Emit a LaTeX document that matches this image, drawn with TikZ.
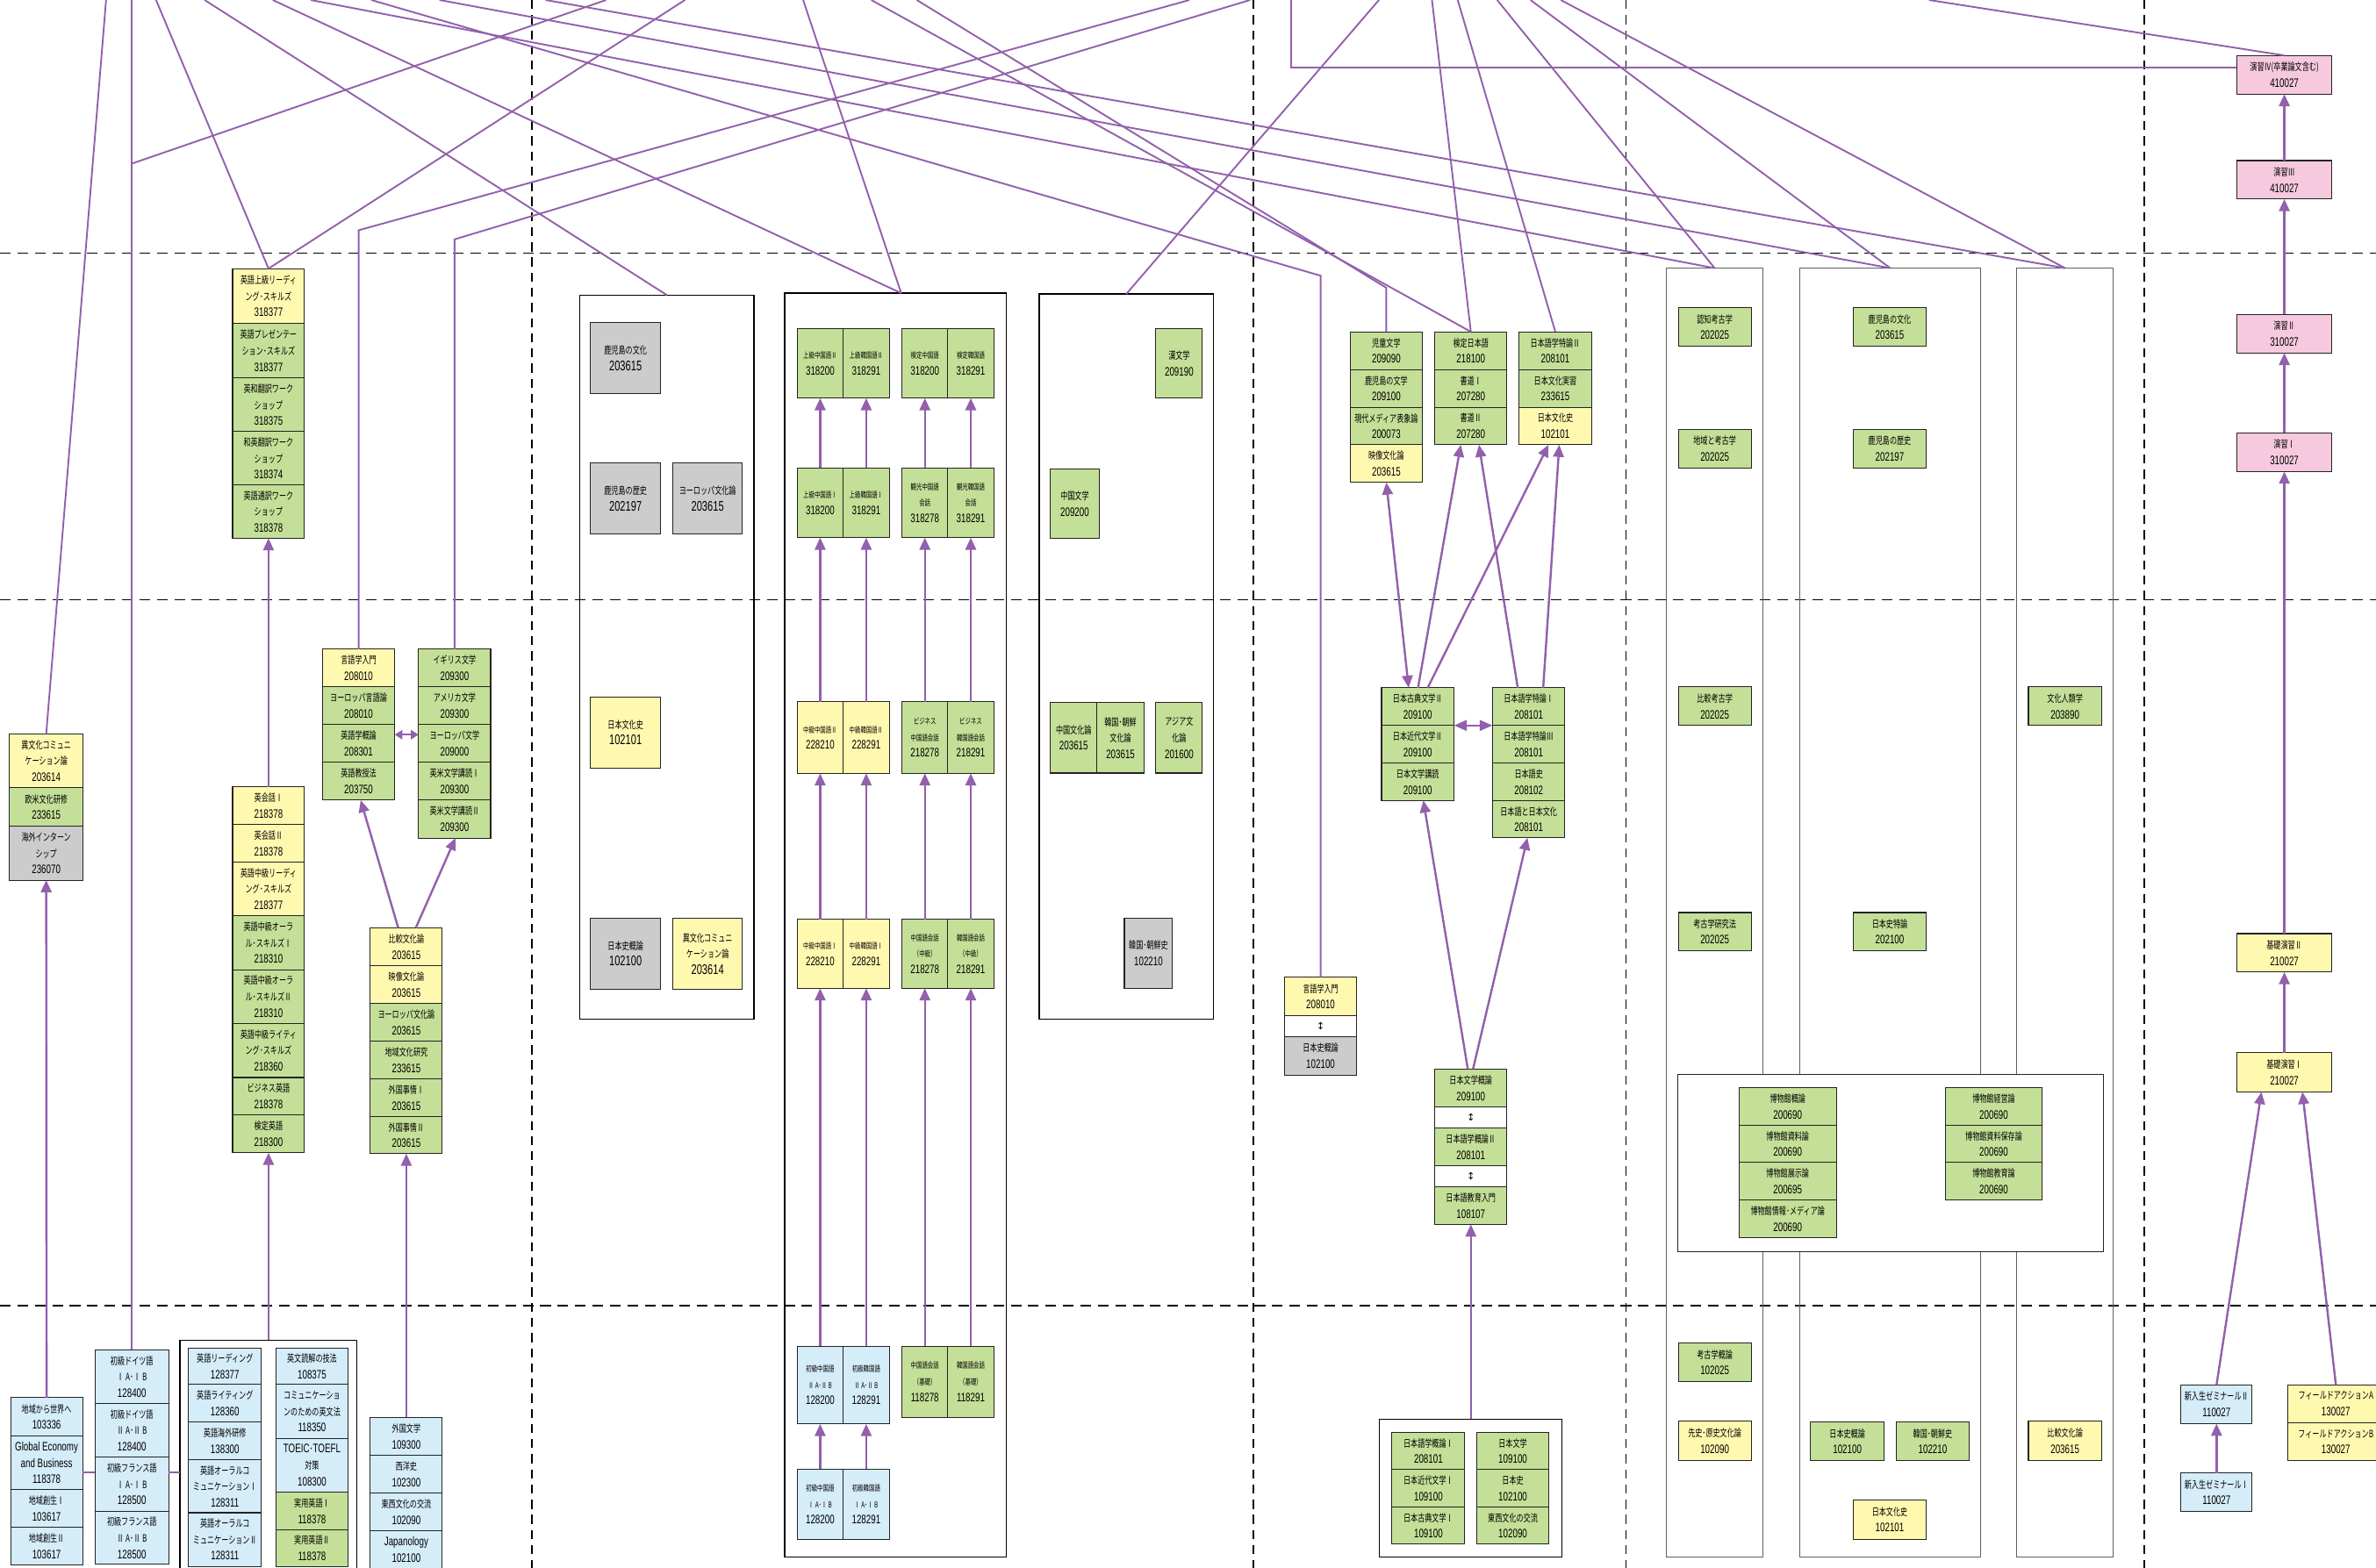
\documentclass[tikz,border=0pt]{standalone}
\usepackage{fontspec}
\setmainfont{Noto Sans CJK JP}
\newfontfamily\jpf{Noto Sans CJK JP}[FakeStretch=0.7]
\newfontfamily\lsf{Liberation Sans}[FakeStretch=0.7]
\newfontfamily\dvs{DejaVu Sans}
\usetikzlibrary{arrows.meta}
\definecolor{cy}{RGB}{255,249,176}
\definecolor{cg}{RGB}{196,223,151}
\definecolor{cb}{RGB}{213,236,249}
\definecolor{cgr}{RGB}{204,204,204}
\definecolor{cp}{RGB}{246,201,222}
\definecolor{pu}{RGB}{146,96,172}
\definecolor{bd}{RGB}{35,35,35}
\newcommand\jfont{\jpf\fontsize{6.7}{10.8}\selectfont}
\newcommand\jsm{\jpf\fontsize{5.3}{10.8}\selectfont}
\newcommand\cd[1]{{\lsf\fontsize{8.1}{10.8}\selectfont#1}}
\newcommand\cdk[1]{{\lsf\fontsize{9.2}{11}\selectfont#1}}
\newcommand\ud{{\dvs\fontsize{6.5}{6.5}\selectfont ↕}}
\newcommand\mycell[8][]{\node[cell,fill=#3,minimum width=#6pt,minimum height=#7pt,#1] (#2) at (#4,#5) {#8};}
\begin{document}
\begin{tikzpicture}[x=1pt,y=-1pt,
 cell/.style={draw=bd, line width=0.6pt, inner sep=0pt, outer sep=0pt, anchor=north west, align=center, font=\jfont},
 grpk/.style={draw=black, line width=0.9pt, inner sep=0pt, outer sep=0pt, anchor=north west},
 grpg/.style={draw=gray!75!black, line width=0.6pt, inner sep=0pt, outer sep=0pt, anchor=north west},
 dsh/.style={draw=black, line width=0.85pt, dash pattern=on 7pt off 4.5pt},
 dshv/.style={draw=black, line width=0.9pt, dash pattern=on 6pt off 4pt},
 ln/.style={draw=pu, line width=1.1pt},
 arr/.style={draw=pu, line width=1.4pt, -{Triangle[width=7pt,length=8pt]}},
 arr2/.style={draw=pu, line width=1.4pt, {Triangle[width=7pt,length=8pt]}-{Triangle[width=7pt,length=8pt]}},
 arr2m/.style={draw=pu, line width=1.4pt, {Triangle[width=7pt,length=8.5pt]}-{Triangle[width=7pt,length=8.5pt]}},
 arr2s/.style={draw=pu, line width=1.2pt, {Triangle[width=6pt,length=5pt]}-{Triangle[width=6pt,length=5pt]}}]
\useasboundingbox (0,0) rectangle (1568,1035);
\clip (0,0) rectangle (1568,1035);
\fill[white] (0,0) rectangle (1568,1035);
% dashed grid
\foreach \yy in {167,396,862} \draw[dsh] (0,\yy) -- (1568,\yy);
\foreach \xx in {351,827,1073,1415} \draw[dshv] (\xx,0) -- (\xx,1035);
% group boxes
\node[grpk, minimum width=114.8pt, minimum height=478.1pt] (Kbox) at (382.7,194.8) {};
\node[grpk, minimum width=146.4pt, minimum height=834.4pt] (Cgrp) at (517.8,193.5) {};
\node[grpk, minimum width=114.9pt, minimum height=478.8pt] (CLbox) at (685.8,194.1) {};
\node[grpk, line width=0.7pt, minimum width=116.8pt, minimum height=170pt] (Cbox) at (118.8,884.6) {};
\node[grpk, line width=0.8pt, minimum width=120.3pt, minimum height=90.9pt] (Jbox) at (910.3,936.8) {};
\node[grpg, minimum width=63.9pt, minimum height=851pt] (B1) at (1099.6,177) {};
\node[grpg, minimum width=119.6pt, minimum height=851pt] (B2) at (1187.6,177) {};
\node[grpg, minimum width=63.7pt, minimum height=851pt] (B3) at (1331,177) {};
\node[grpg, draw=bd, fill=white, minimum width=281pt, minimum height=116.6pt] (Mbox) at (1107.4,709.4) {};
% ---------- far left
\mycell{a1}{cy}{6}{484.5}{49}{35.5}{異文化コミュニ\\ケーション論\\\cd{203614}}
\mycell{a2}{cg}{6}{520}{49}{25.4}{欧米文化研修\\\cd{233615}}
\mycell{a3}{cgr}{6}{545.4}{49}{35.6}{海外インターン\\シップ\\\cd{236070}}
\mycell{b1}{cb}{7}{922.7}{47.5}{25.3}{地域から世界へ\\\cd{103336}}
\mycell{b2}{cb}{7}{948}{47.5}{35.4}{\cd{Global Economy}\\\cd{and Business}\\\cd{118378}}
\mycell{b3}{cb}{7}{983.4}{47.5}{25}{地域創生Ⅰ\\\cd{103617}}
\mycell{b4}{cb}{7}{1008.4}{47.5}{24.8}{地域創生Ⅱ\\\cd{103617}}
\mycell{c1}{cb}{62.7}{891}{48.7}{35.5}{初級ドイツ語\\Ⅰ A･Ⅰ B\\\cd{128400}}
\mycell{c2}{cb}{62.7}{926.5}{48.7}{35.4}{初級ドイツ語\\Ⅱ A･Ⅱ B\\\cd{128400}}
\mycell{c3}{cb}{62.7}{961.9}{48.7}{35.8}{初級フランス語\\Ⅰ A･Ⅰ B\\\cd{128500}}
\mycell{c4}{cb}{62.7}{997.7}{48.7}{35}{初級フランス語\\Ⅱ A･Ⅱ B\\\cd{128500}}
\mycell{d1}{cb}{124.5}{889.8}{47.9}{24.2}{英語リーディング\\\cd{128377}}
\mycell{d2}{cb}{124.5}{914}{47.9}{24.7}{英語ライティング\\\cd{128360}}
\mycell{d3}{cb}{124.5}{938.7}{47.9}{25}{英語海外研修\\\cd{138300}}
\mycell{d4}{cb}{124.5}{963.7}{47.9}{34.9}{英語オーラルコ\\ミュニケーションⅠ\\\cd{128311}}
\mycell{d5}{cb}{124.5}{998.6}{47.9}{35.4}{英語オーラルコ\\ミュニケーションⅡ\\\cd{128311}}
\mycell{e1}{cb}{182}{889.8}{47.8}{24.2}{英文読解の技法\\\cd{108375}}
\mycell{e2}{cb}{182}{914}{47.8}{35.4}{コミュニケーショ\\ンのための英文法\\\cd{118350}}
\mycell{e3}{cb}{182}{949.4}{47.8}{35.6}{\cd{TOEIC}･\cd{TOEFL}\\対策\\\cd{108300}}
\mycell{e4}{cg}{182}{985}{47.8}{25}{実用英語Ⅰ\\\cd{118378}}
\mycell{e5}{cg}{182}{1010}{47.8}{24}{実用英語Ⅱ\\\cd{118378}}
% English intermediate
\mycell{f1}{cy}{153.5}{519.4}{47.4}{25}{英会話Ⅰ\\\cd{218378}}
\mycell{f2}{cy}{153.5}{544.4}{47.4}{24.7}{英会話Ⅱ\\\cd{218378}}
\mycell{f3}{cy}{153.5}{569.1}{47.4}{35.3}{英語中級リーディ\\ング･スキルズ\\\cd{218377}}
\mycell{f4}{cg}{153.5}{604.4}{47.4}{35.8}{英語中級オーラ\\ル･スキルズⅠ\\\cd{218310}}
\mycell{f5}{cg}{153.5}{640.2}{47.4}{35.4}{英語中級オーラ\\ル･スキルズⅡ\\\cd{218310}}
\mycell{f6}{cg}{153.5}{675.6}{47.4}{35.7}{英語中級ライティ\\ング･スキルズ\\\cd{218360}}
\mycell{f7}{cg}{153.5}{711.3}{47.4}{24.7}{ビジネス英語\\\cd{218378}}
\mycell{f8}{cg}{153.5}{736}{47.4}{25}{検定英語\\\cd{218300}}
% English advanced
\mycell{g1}{cy}{153.5}{177.3}{47.4}{36.1}{英語上級リーディ\\ング･スキルズ\\\cd{318377}}
\mycell{g2}{cg}{153.5}{213.4}{47.4}{36.1}{英語プレゼンテー\\ション･スキルズ\\\cd{318377}}
\mycell{g3}{cg}{153.5}{249.5}{47.4}{35.4}{英和翻訳ワーク\\ショップ\\\cd{318375}}
\mycell{g4}{cg}{153.5}{284.9}{47.4}{35.4}{和英翻訳ワーク\\ショップ\\\cd{318374}}
\mycell{g5}{cg}{153.5}{320.3}{47.4}{35}{英語通訳ワーク\\ショップ\\\cd{318378}}
% linguistics / literature
\mycell{h1}{cy}{212.8}{428.5}{47.7}{24.9}{言語学入門\\\cd{208010}}
\mycell{h2}{cg}{212.8}{453.4}{47.7}{25}{ヨーロッパ言語論\\\cd{208010}}
\mycell{h3}{cg}{212.8}{478.4}{47.7}{24.9}{英語学概論\\\cd{208301}}
\mycell{h4}{cg}{212.8}{503.3}{47.7}{24.9}{英語教授法\\\cd{203750}}
\mycell{i1}{cg}{276.2}{428.5}{47.6}{24.9}{イギリス文学\\\cd{209300}}
\mycell{i2}{cg}{276.2}{453.4}{47.6}{25}{アメリカ文学\\\cd{209300}}
\mycell{i3}{cg}{276.2}{478.4}{47.6}{24.9}{ヨーロッパ文学\\\cd{209000}}
\mycell{i4}{cg}{276.2}{503.3}{47.6}{24.9}{英米文学講読Ⅰ\\\cd{209300}}
\mycell{i5}{cg}{276.2}{528.2}{47.6}{25}{英米文学講読Ⅱ\\\cd{209300}}
\mycell{j1}{cy}{244.4}{612.5}{47.5}{24.9}{比較文化論\\\cd{203615}}
\mycell{j2}{cy}{244.4}{637.4}{47.5}{25}{映像文化論\\\cd{203615}}
\mycell{j3}{cg}{244.4}{662.4}{47.5}{24.9}{ヨーロッパ文化論\\\cd{203615}}
\mycell{j4}{cg}{244.4}{687.3}{47.5}{24.9}{地域文化研究\\\cd{233615}}
\mycell{j5}{cg}{244.4}{712.2}{47.5}{25}{外国事情Ⅰ\\\cd{203615}}
\mycell{j6}{cg}{244.4}{737.2}{47.5}{24.4}{外国事情Ⅱ\\\cd{203615}}
\mycell{k1}{cb}{244.4}{935.7}{47.5}{24.9}{外国文学\\\cd{109300}}
\mycell{k2}{cb}{244.4}{960.6}{47.5}{24.9}{西洋史\\\cd{102300}}
\mycell{k3}{cb}{244.4}{985.5}{47.5}{24.9}{東西文化の交流\\\cd{102090}}
\mycell{k4}{cb}{244.4}{1010.4}{47.5}{25}{\cd{Japanology}\\\cd{102100}}
% Kagoshima group
\mycell{l1}{cgr}{389.6}{213}{46.4}{46.8}{鹿児島の文化\\\cdk{203615}}
\mycell{l2}{cgr}{389.6}{305.6}{46.4}{46.7}{鹿児島の歴史\\\cdk{202197}}
\mycell{l3}{cgr}{443.9}{305.6}{46.1}{46.7}{ヨーロッパ文化論\\\cdk{203615}}
\mycell{l4}{cy}{389.6}{460}{46.4}{47.1}{日本文化史\\\cdk{102101}}
\mycell{l5}{cgr}{389.6}{606}{46.4}{47.1}{日本史概論\\\cdk{102100}}
\mycell{l6}{cy}{443.9}{606}{46.1}{47.1}{異文化コミュニ\\ケーション論\\\cdk{203614}}
% Chinese / Korean group
\mycell[font=\jsm]{ch11}{cg}{526.1}{216.8}{30.3}{46}{上級中国語Ⅱ\\\cd{318200}}
\mycell[font=\jsm]{ch12}{cg}{556.4}{216.8}{30.5}{46}{上級韓国語Ⅱ\\\cd{318291}}
\mycell[font=\jsm]{ch13}{cg}{595.2}{216.8}{30.3}{46}{検定中国語\\\cd{318200}}
\mycell[font=\jsm]{ch14}{cg}{625.5}{216.8}{30.3}{46}{検定韓国語\\\cd{318291}}
\mycell[font=\jsm]{ch21}{cg}{526.1}{308.9}{30.3}{46}{上級中国語Ⅰ\\\cd{318200}}
\mycell[font=\jsm]{ch22}{cg}{556.4}{308.9}{30.5}{46}{上級韓国語Ⅰ\\\cd{318291}}
\mycell[font=\jsm]{ch23}{cg}{595.2}{308.9}{30.3}{46}{観光中国語\\会話\\\cd{318278}}
\mycell[font=\jsm]{ch24}{cg}{625.5}{308.9}{30.3}{46}{観光韓国語\\会話\\\cd{318291}}
\mycell[font=\jsm]{ch31}{cy}{526.1}{463.3}{30.3}{47.2}{中級中国語Ⅱ\\\cd{228210}}
\mycell[font=\jsm]{ch32}{cy}{556.4}{463.3}{30.5}{47.2}{中級韓国語Ⅱ\\\cd{228291}}
\mycell[font=\jsm]{ch33}{cg}{595.2}{463.3}{30.3}{47.2}{ビジネス\\中国語会話\\\cd{218278}}
\mycell[font=\jsm]{ch34}{cg}{625.5}{463.3}{30.3}{47.2}{ビジネス\\韓国語会話\\\cd{218291}}
\mycell[font=\jsm]{ch41}{cy}{526.1}{606.9}{30.3}{45.5}{中級中国語Ⅰ\\\cd{228210}}
\mycell[font=\jsm]{ch42}{cy}{556.4}{606.9}{30.5}{45.5}{中級韓国語Ⅰ\\\cd{228291}}
\mycell[font=\jsm]{ch43}{cg}{595.2}{606.9}{30.3}{45.5}{中国語会話\\（中級）\\\cd{218278}}
\mycell[font=\jsm]{ch44}{cg}{625.5}{606.9}{30.3}{45.5}{韓国語会話\\（中級）\\\cd{218291}}
\mycell[font=\jsm]{ch51}{cb}{526.1}{888.6}{30.3}{51.4}{初級中国語\\Ⅱ A･Ⅱ B\\\cd{128200}}
\mycell[font=\jsm]{ch52}{cb}{556.4}{888.6}{30.5}{51.4}{初級韓国語\\Ⅱ A･Ⅱ B\\\cd{128291}}
\mycell[font=\jsm]{ch53}{cg}{595.2}{888.6}{30.3}{47.2}{中国語会話\\（基礎）\\\cd{118278}}
\mycell[font=\jsm]{ch54}{cg}{625.5}{888.6}{30.3}{47.2}{韓国語会話\\（基礎）\\\cd{118291}}
\mycell[font=\jsm]{ch61}{cb}{526.1}{969.9}{30.3}{46.1}{初級中国語\\Ⅰ A･Ⅰ B\\\cd{128200}}
\mycell[font=\jsm]{ch62}{cb}{556.4}{969.9}{30.5}{46.1}{初級韓国語\\Ⅰ A･Ⅰ B\\\cd{128291}}
% Chinese literature group
\mycell{m1}{cg}{762.8}{216.8}{30.7}{46.1}{漢文学\\\cd{209190}}
\mycell{m2}{cg}{693.1}{309.4}{32.3}{46.1}{中国文学\\\cd{209200}}
\mycell{m3}{cg}{693.1}{463.8}{30.9}{46.5}{中国文化論\\\cd{203615}}
\mycell{m4}{cg}{724}{463.8}{30.9}{46.5}{韓国･朝鮮\\文化論\\\cd{203615}}
\mycell{m5}{cg}{762.8}{463.8}{30.7}{46.5}{アジア文\\化論\\\cd{201600}}
\mycell{m6}{cgr}{742}{606}{31.8}{46.5}{韓国･朝鮮史\\\cd{102210}}
% Japanese
\mycell{n1}{cy}{847.6}{645.1}{47.8}{25.6}{言語学入門\\\cd{208010}}
\mycell{n2}{white}{847.6}{670.7}{47.8}{13.6}{\ud}
\mycell{n3}{cgr}{847.6}{684.3}{47.8}{25.3}{日本史概論\\\cd{102100}}
\mycell{o1}{cg}{891}{219}{47.7}{25}{児童文学\\\cd{209090}}
\mycell{o2}{cg}{891}{244}{47.7}{24.8}{鹿児島の文学\\\cd{209100}}
\mycell{o3}{cg}{891}{268.8}{47.7}{24.8}{現代メディア表象論\\\cd{200073}}
\mycell{o4}{cy}{891}{293.6}{47.7}{24.9}{映像文化論\\\cd{203615}}
\mycell{p1}{cg}{947}{219}{47.3}{25}{検定日本語\\\cd{218100}}
\mycell{p2}{cg}{947}{244}{47.3}{24.8}{書道Ⅰ\\\cd{207280}}
\mycell{p3}{cg}{947}{268.8}{47.3}{24.8}{書道Ⅱ\\\cd{207280}}
\mycell{q1}{cg}{1002.6}{219}{47.6}{25}{日本語学特論Ⅱ\\\cd{208101}}
\mycell{q2}{cg}{1002.6}{244}{47.6}{24.8}{日本文化実習\\\cd{233615}}
\mycell{q3}{cy}{1002.6}{268.8}{47.6}{24.8}{日本文化史\\\cd{102101}}
\mycell{r1}{cg}{911.7}{454}{47.8}{24.9}{日本古典文学Ⅱ\\\cd{209100}}
\mycell{r2}{cg}{911.7}{478.9}{47.8}{24.8}{日本近代文学Ⅱ\\\cd{209100}}
\mycell{r3}{cg}{911.7}{503.7}{47.8}{24.7}{日本文学講読\\\cd{209100}}
\mycell{s1}{cg}{985}{454}{47.7}{24.9}{日本語学特論Ⅰ\\\cd{208101}}
\mycell{s2}{cg}{985}{478.9}{47.7}{24.8}{日本語学特論Ⅲ\\\cd{208101}}
\mycell{s3}{cg}{985}{503.7}{47.7}{24.7}{日本語史\\\cd{208102}}
\mycell{s4}{cg}{985}{528.4}{47.7}{24.7}{日本語と日本文化\\\cd{208101}}
\mycell{t1}{cg}{947}{705.7}{47.3}{25.1}{日本文学概論\\\cd{209100}}
\mycell{t2}{white}{947}{730.8}{47.3}{13.8}{\ud}
\mycell{t3}{cg}{947}{744.6}{47.3}{24.8}{日本語学概論Ⅱ\\\cd{208101}}
\mycell{t4}{white}{947}{769.4}{47.3}{13.9}{\ud}
\mycell{t5}{cg}{947}{783.3}{47.3}{25}{日本語教育入門\\\cd{108107}}
\mycell{u1}{cg}{918.6}{945.4}{48.1}{24.8}{日本語学概論Ⅰ\\\cd{208101}}
\mycell{u2}{cg}{918.6}{970.2}{48.1}{24.8}{日本近代文学Ⅰ\\\cd{109100}}
\mycell{u3}{cg}{918.6}{995}{48.1}{24.3}{日本古典文学Ⅰ\\\cd{109100}}
\mycell{v1}{cg}{974.4}{945.4}{47.9}{24.8}{日本文学\\\cd{109100}}
\mycell{v2}{cg}{974.4}{970.2}{47.9}{24.8}{日本史\\\cd{102100}}
\mycell{v3}{cg}{974.4}{995}{47.9}{24.3}{東西文化の交流\\\cd{102090}}
% archaeology / history / anthropology
\mycell{w1}{cg}{1107.5}{203}{48.2}{25.6}{認知考古学\\\cd{202025}}
\mycell{w2}{cg}{1107.5}{283.3}{48.2}{25.6}{地域と考古学\\\cd{202025}}
\mycell{w3}{cg}{1107.5}{453.5}{48.2}{25.5}{比較考古学\\\cd{202025}}
\mycell{w4}{cg}{1107.5}{602.4}{48.2}{25.3}{考古学研究法\\\cd{202025}}
\mycell{w5}{cg}{1107.5}{886.4}{48.2}{25.8}{考古学概論\\\cd{102025}}
\mycell{w6}{cy}{1107.5}{938.3}{48.2}{25.9}{先史･原史文化論\\\cd{102090}}
\mycell{x1}{cg}{1223}{203}{48.2}{25.6}{鹿児島の文化\\\cd{203615}}
\mycell{x2}{cg}{1223}{283.3}{48.2}{25.6}{鹿児島の歴史\\\cd{202197}}
\mycell{x3}{cg}{1223}{602.4}{48.2}{25.3}{日本史特論\\\cd{202100}}
\mycell{x4}{cg}{1194.9}{938.9}{48.4}{25.3}{日本史概論\\\cd{102100}}
\mycell{x5}{cg}{1251.3}{938.9}{48.3}{25.3}{韓国･朝鮮史\\\cd{102210}}
\mycell{x6}{cy}{1223}{990}{48.2}{26}{日本文化史\\\cd{102101}}
\mycell{y1}{cg}{1338.6}{453.5}{48.3}{25.5}{文化人類学\\\cd{203890}}
\mycell{y2}{cy}{1338.6}{938.3}{48.3}{25.9}{比較文化論\\\cd{203615}}
\mycell{z1}{cg}{1147.7}{718.1}{64.1}{24.8}{博物館概論\\\cd{200690}}
\mycell{z2}{cg}{1147.7}{742.9}{64.1}{24.5}{博物館資料論\\\cd{200690}}
\mycell{z3}{cg}{1147.7}{767.4}{64.1}{24.8}{博物館展示論\\\cd{200695}}
\mycell{z4}{cg}{1147.7}{792.2}{64.1}{24.7}{博物館情報･メディア論\\\cd{200690}}
\mycell{zz1}{cg}{1283.7}{718.1}{64.1}{24.8}{博物館経営論\\\cd{200690}}
\mycell{zz2}{cg}{1283.7}{742.9}{64.1}{24.5}{博物館資料保存論\\\cd{200690}}
\mycell{zz3}{cg}{1283.7}{767.4}{64.1}{24.8}{博物館教育論\\\cd{200690}}
% seminars
\mycell{P4}{cp}{1476}{36.6}{63}{25.5}{演習Ⅳ(卒業論文含む)\\\cd{410027}}
\mycell{P3}{cp}{1476}{106}{63}{25.4}{演習Ⅲ\\\cd{410027}}
\mycell{P2}{cp}{1476}{207.5}{63}{25.5}{演習Ⅱ\\\cd{310027}}
\mycell{P1}{cp}{1476}{285.8}{63}{25.5}{演習Ⅰ\\\cd{310027}}
\mycell{K2}{cy}{1476}{616.3}{63}{25.4}{基礎演習Ⅱ\\\cd{210027}}
\mycell{K1}{cy}{1476}{695}{63}{25.8}{基礎演習Ⅰ\\\cd{210027}}
\mycell{S2}{cb}{1439.3}{914.2}{46.9}{25.6}{新入生ゼミナールⅡ\\\cd{110027}}
\mycell{S1}{cb}{1439.3}{972.3}{46.9}{25.7}{新入生ゼミナールⅠ\\\cd{110027}}
\mycell{F1}{cy}{1510}{914.2}{63}{24.8}{フィールドアクションA\\\cd{130027}}
\mycell{F2}{cy}{1510}{939}{63}{25.4}{フィールドアクションB\\\cd{130027}}
% ---------- helper coordinates
\coordinate (top) at (0,0);
\foreach \xx in {70,103,135,180,205,245,290,360,400,452,530,575,605,785,825,852,910,945,962,988,1010,1030,1273}
  {\coordinate (e\xx) at (\xx,0);}
\coordinate (y44) at (0,44.4);
\coordinate (y108) at (0,108);
\coordinate (y152) at (0,152);
\coordinate (y158) at (0,158);
\coordinate (y182) at (0,182);
\coordinate (y190) at (0,190);
\coordinate (yh) at (0,972);
% ---------- lines from the top
\draw[ln] (e70) -- (a1.north);
\draw[ln] (c1.north |- top) -- (c1.north);
\draw[ln] (c1.north |- y108) -- (e400);
\draw[ln] (e103) -- (g1.north);
\draw[ln] (e452) -- (g1.north);
\draw[ln] (h1.north) -- (h1.north |- y152) -- (e785);
\draw[ln] (i1.north) -- (i1.north |- y158) -- (e825);
\draw[ln] (e135) -- (Kbox.north);
\draw[ln] (e180) -- ([xshift=3.7pt]Cgrp.north);
\draw[ln] (e530) -- ([xshift=3.7pt]Cgrp.north);
\draw[ln] (e910) -- (CLbox.north);
\draw[ln] (e245) -- (n1.north |- y182) -- (n1.north);
\draw[ln] (e605) -- (o1.north |- y190) -- (o1.north);
\draw[ln] (e575) -- (p1.north);
\draw[ln] (e945) -- (p1.north);
\draw[ln] (e962) -- (q1.north);
\draw[ln] (e988) -- (B1.north);
\draw[ln] (e205) -- (B1.north);
\draw[ln] (e1010) -- (B2.north);
\draw[ln] (e290) -- (B2.north);
\draw[ln] (e1030) -- (B3.north);
\draw[ln] (e360) -- (B3.north);
\draw[ln] (e1273) -- (P4.north);
\draw[ln] (e852) |- ([yshift=4.95pt]P4.west);
% ---------- horizontal connectors
\draw[ln] (b2.east |- yh) -- (c3.west |- yh);
\draw[ln] (c3.east |- yh) -- (Cbox.west |- yh);
% ---------- arrows: English / Europe
\draw[arr] (b1.north) -- (a3.south);
\draw[arr] (Cbox.north -| f8) -- (f8.south);
\draw[arr] (f1.north) -- (g5.south);
\draw[arr] ([xshift=-5.35pt]j1.north) -- ([xshift=1.35pt]h4.south);
\draw[arr] ([xshift=6.25pt]j1.north) -- ([xshift=0.6pt]i5.south);
\draw[arr] (k1.north) -- (j6.south);
\draw[arr2s] ([yshift=5.85pt]h3.east) -- ([yshift=5.85pt]i3.west);
% ---------- arrows: Chinese / Korean
\foreach \c in {1,2} {
  \draw[arr] (ch6\c.north) -- (ch5\c.south);
}
\foreach \c in {1,2,3,4} {
  \draw[arr] (ch5\c.north) -- (ch4\c.south);
  \draw[arr] (ch4\c.north) -- (ch3\c.south);
  \draw[arr] (ch3\c.north) -- (ch2\c.south);
  \draw[arr] (ch2\c.north) -- (ch1\c.south);
}
% ---------- arrows: Japanese
\draw[arr2] (o4.south) -- ([xshift=-6pt]r1.north);
\draw[arr] ([xshift=0.2pt]r1.north) -- ([xshift=-6.65pt]p3.south);
\draw[arr] ([xshift=6.6pt]r1.north) -- ([xshift=-4.5pt]q3.south);
\draw[arr] ([xshift=-7.25pt]s1.north) -- ([xshift=5.35pt]p3.south);
\draw[arr] ([xshift=9.55pt]s1.north) -- ([xshift=2.6pt]q3.south);
\draw[arr2m] (r1.south east) -- (s1.south west);
\draw[arr] ([xshift=-2pt]t1.north) -- ([xshift=3.7pt]r3.south);
\draw[arr] ([xshift=1.45pt]t1.north) -- ([xshift=-0.85pt]s4.south);
\draw[arr] (Jbox.north -| t5) -- (t5.south);
% ---------- arrows: seminars
\draw[arr] (P3.north) -- (P4.south);
\draw[arr] (P2.north) -- (P3.south);
\draw[arr] (P1.north) -- (P2.south);
\draw[arr] (K2.north) -- (P1.south);
\draw[arr] (K1.north) -- (K2.south);
\draw[arr] (S1.north) -- (S2.south);
\draw[arr] (S2.north) -- ([xshift=-15.1pt]K1.south);
\draw[arr] (F1.north) -- ([xshift=11.9pt]K1.south);
\end{tikzpicture}
\end{document}
